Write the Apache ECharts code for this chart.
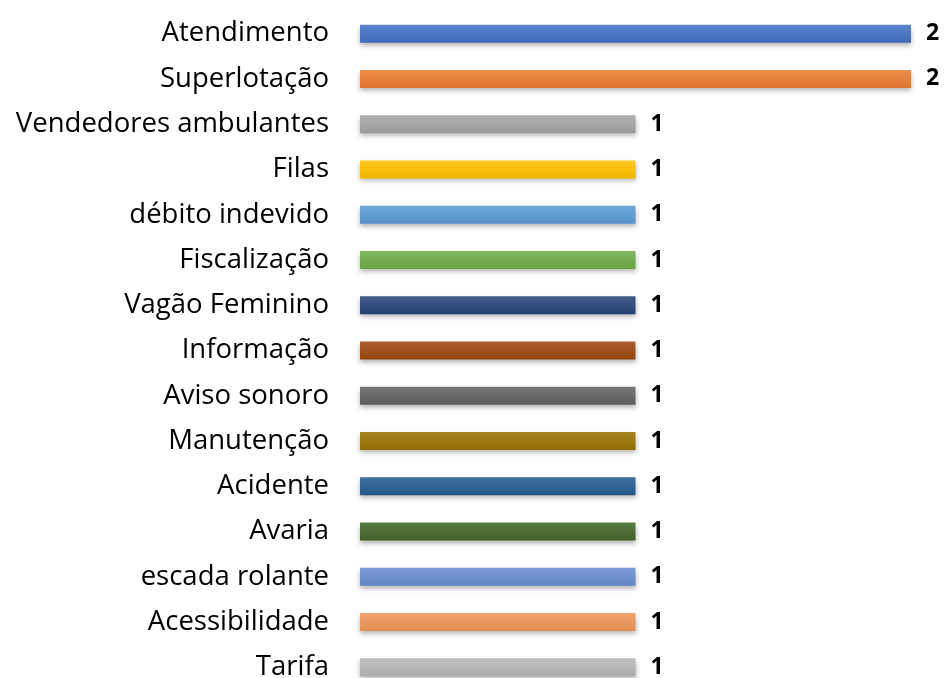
<!DOCTYPE html>
<html>
<head>
<meta charset="utf-8">
<script src="https://cdn.jsdelivr.net/npm/echarts@6/dist/echarts.min.js"></script>
<style>
  html, body { margin: 0; padding: 0; background: #fff; }
  #chart { width: 944px; height: 678px; }
</style>
</head>
<body>
<div id="chart"></div>
<script>
// categorias (de cima para baixo)
var categorias = ['Atendimento', 'Superlotação', 'Vendedores ambulantes', 'Filas', 'débito indevido',
  'Fiscalização', 'Vagão Feminino', 'Informação', 'Aviso sonoro', 'Manutenção',
  'Acidente', 'Avaria', 'escada rolante', 'Acessibilidade', 'Tarifa'];
var valores = [2, 2, 1, 1, 1, 1, 1, 1, 1, 1, 1, 1, 1, 1, 1];
var cores = ['#4472C4', '#ED7D31', '#A5A5A5', '#FFC000', '#5B9BD5', '#70AD47', '#264478', '#9E480E',
  '#636363', '#997300', '#255E91', '#43682B', '#698ED0', '#F1975A', '#B7B7B7'];

//clareia/escurece uma cor hex
function ajusta(hex, f) {
  var n = parseInt(hex.slice(1), 16);
  var r = (n >> 16) & 255, g = (n >> 8) & 255, b = n & 255;
  function c(v) {
    v = f > 0 ? v + (255 - v) * f : v * (1 + f);
    return Math.round(Math.max(0, Math.min(255, v)));
  }
  return 'rgb(' + c(r) + ',' + c(g) + ',' + c(b) + ')';
}

var dados = valores.map(function (v, i) {
  return {
    value: v,
    itemStyle: {
      color: new echarts.graphic.LinearGradient(0, 0, 0, 1, [
        { offset: 0, color: ajusta(cores[i], 0.12) },
        { offset: 1, color: ajusta(cores[i], -0.06) }
      ])
    }
  };
});

var myChart = echarts.init(document.getElementById('chart'));
var option = {
  animation: false,
  grid: { left: 360, right: 33, top: 11, height: 679, outerBoundsMode: 'none', containLabel: false },
  xAxis: {
    type: 'value', min: 0, max: 2, show: false
  },
  yAxis: {
    type: 'category',
    inverse: true,
    data: categorias,
    axisLine: { show: false },
    axisTick: { show: false },
    axisLabel: {
      margin: 31,
      fontFamily: 'Open Sans',
      fontSize: 27.5,
      color: '#000'
    }
  },
  series: [
    {
      type: 'bar',
      data: dados,
      barWidth: 18,
      itemStyle: {
        shadowColor: 'rgba(0,0,0,0.3)',
        shadowBlur: 5,
        shadowOffsetY: 3
      },
      label: {
        show: true,
        position: 'right',
        distance: 15,
        fontFamily: 'Open Sans',
        fontWeight: 'bold',
        fontSize: 23,
        color: '#000'
      }
    }
  ]
};
option && myChart.setOption(option);
</script>
</body>
</html>
